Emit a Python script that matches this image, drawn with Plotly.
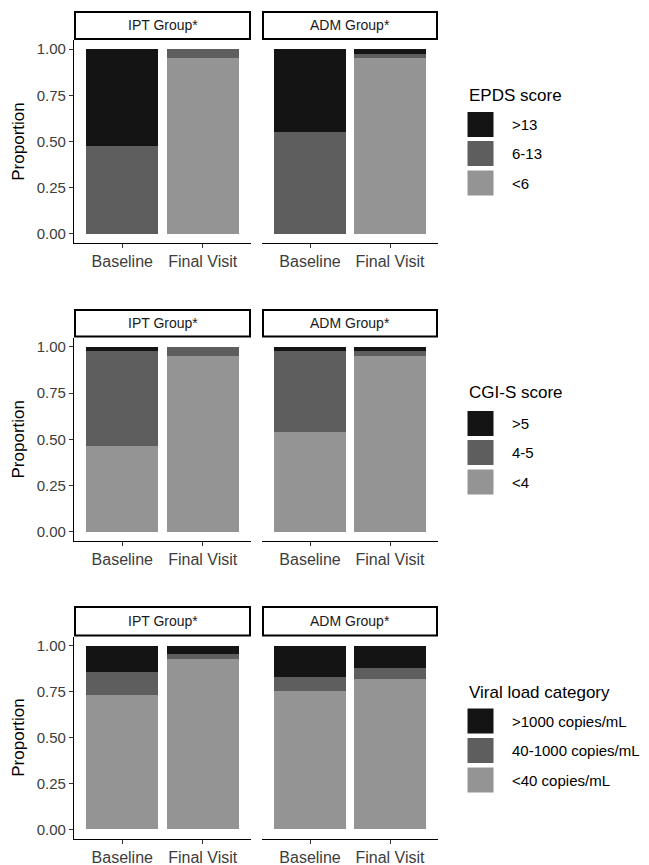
import plotly.graph_objects as go

W, H = 649, 865

# ---------------- data ----------------
visits = ["Baseline", "Final Visit"]
groups = ["IPT Group*", "ADM Group*"]

epds_title = "EPDS score"
epds_levels = [">13", "6-13", "<6"]
epds_ipt_gt13 = [0.523, 0.000]
epds_ipt_6_13 = [0.477, 0.045]
epds_ipt_lt6 = [0.000, 0.955]
epds_adm_gt13 = [0.447, 0.025]
epds_adm_6_13 = [0.553, 0.020]
epds_adm_lt6 = [0.000, 0.955]

cgi_title = "CGI-S score"
cgi_levels = [">5", "4-5", "<4"]
cgi_ipt_gt5 = [0.023, 0.000]
cgi_ipt_4_5 = [0.512, 0.052]
cgi_ipt_lt4 = [0.465, 0.948]
cgi_adm_gt5 = [0.023, 0.025]
cgi_adm_4_5 = [0.436, 0.027]
cgi_adm_lt4 = [0.541, 0.948]

vl_title = "Viral load category"
vl_levels = [">1000 copies/mL", "40-1000 copies/mL", "<40 copies/mL"]
vl_ipt_gt1000 = [0.144, 0.046]
vl_ipt_40_1000 = [0.123, 0.029]
vl_ipt_lt40 = [0.733, 0.925]
vl_adm_gt1000 = [0.173, 0.124]
vl_adm_40_1000 = [0.076, 0.056]
vl_adm_lt40 = [0.751, 0.820]

y_ticks = [0, 0.25, 0.5, 0.75, 1.0]

# ---------------- styling ----------------
colors = ["#141414", "#5e5e5e", "#949494"]  # dark, mid, light (same order as levels)
FONT = "Liberation Sans, Arial, sans-serif"
TICK_COLOR = "#3d3d3d"

rows = [
    (epds_title, epds_levels,
     [[epds_ipt_gt13, epds_ipt_6_13, epds_ipt_lt6],
      [epds_adm_gt13, epds_adm_6_13, epds_adm_lt6]]),
    (cgi_title, cgi_levels,
     [[cgi_ipt_gt5, cgi_ipt_4_5, cgi_ipt_lt4],
      [cgi_adm_gt5, cgi_adm_4_5, cgi_adm_lt4]]),
    (vl_title, vl_levels,
     [[vl_ipt_gt1000, vl_ipt_40_1000, vl_ipt_lt40],
      [vl_adm_gt1000, vl_adm_40_1000, vl_adm_lt40]]),
]

# pixel layout
col_px = [(74, 251), (262, 438)]
row_panel_px = [(40, 243), (337.5, 541), (636.5, 838.5)]
row_strip_px = [(11, 40), (309, 337.5), (606, 636.5)]
legend_title_px = [95, 392, 692]
legend_key_top_px = [[111.5, 140.5, 170], [410.5, 439.5, 469], [708, 737.5, 767]]
legend_key_x = (467, 494)
legend_text_x = 510


def px_x(p):
    return p / W


def px_y(p):
    return 1 - p / H


fig = go.Figure()
shapes = []
annotations = []

for r, (title, levels, data) in enumerate(rows):
    for c in range(2):
        idx = r * 2 + c + 1
        xa = "x" if idx == 1 else f"x{idx}"
        ya = "y" if idx == 1 else f"y{idx}"
        # stack bottom-up: light, mid, dark
        for k in [2, 1, 0]:
            fig.add_trace(go.Bar(
                x=visits, y=data[c][k], name=levels[k],
                marker=dict(color=colors[k], line=dict(width=0)),
                width=0.9, xaxis=xa, yaxis=ya, showlegend=False,
            ))
        x0, x1 = col_px[c]
        p0, p1 = row_panel_px[r]
        xkey = "xaxis" if idx == 1 else f"xaxis{idx}"
        ykey = "yaxis" if idx == 1 else f"yaxis{idx}"
        fig.layout[xkey] = dict(
            domain=[px_x(x0), px_x(x1)], anchor=ya,
            type="category", range=[-0.6, 1.6],
            showline=True, linecolor="black", linewidth=1.2,
            ticks="outside", ticklen=4, tickcolor="#333333", tickwidth=1,
            tickfont=dict(family=FONT, size=16, color=TICK_COLOR),
            showgrid=False, zeroline=False, fixedrange=True,
        )
        fig.layout[ykey] = dict(
            domain=[px_y(p1), px_y(p0)], anchor=xa,
            range=[-0.05, 1.05],
            tickvals=y_ticks, tickformat=".2f",
            showline=(c == 0), linecolor="black", linewidth=1.2,
            ticks="outside" if c == 0 else "", ticklen=4, tickcolor="#333333",
            showticklabels=(c == 0),
            tickfont=dict(family=FONT, size=15, color=TICK_COLOR),
            showgrid=False, zeroline=False, fixedrange=True,
            title=dict(text="Proportion" if c == 0 else "",
                       font=dict(family=FONT, size=17, color="black"),
                       standoff=7),
        )
        # strip
        s0, s1 = row_strip_px[r]
        shapes.append(dict(type="rect", xref="paper", yref="paper",
                           x0=px_x(x0 + 1), x1=px_x(x1 - 1), y0=px_y(s1 - 1), y1=px_y(s0 + 1),
                           line=dict(color="black", width=2), fillcolor="white"))
        annotations.append(dict(text=groups[c], xref="paper", yref="paper",
                                x=px_x((x0 + x1) / 2), y=px_y((s0 + s1) / 2),
                                xanchor="center", yanchor="middle", showarrow=False,
                                font=dict(family=FONT, size=14, color="#1a1a1a")))
    # legend
    annotations.append(dict(text=title, xref="paper", yref="paper",
                            x=px_x(legend_key_x[0]), y=px_y(legend_title_px[r]),
                            xanchor="left", yanchor="middle", showarrow=False,
                            font=dict(family=FONT, size=17, color="black")))
    for k, lev in enumerate(levels):
        t = legend_key_top_px[r][k]
        shapes.append(dict(type="rect", xref="paper", yref="paper",
                           x0=px_x(legend_key_x[0]), x1=px_x(legend_key_x[1]),
                           y0=px_y(t + 26), y1=px_y(t),
                           line=dict(color="white", width=1), fillcolor=colors[k]))
        annotations.append(dict(text=lev, xref="paper", yref="paper",
                                x=px_x(legend_text_x), y=px_y(t + 13),
                                xanchor="left", yanchor="middle", showarrow=False,
                                font=dict(family=FONT, size=15, color="black")))

fig.update_layout(
    width=W, height=H,
    margin=dict(l=0, r=0, t=0, b=0),
    paper_bgcolor="white", plot_bgcolor="white",
    barmode="stack", bargap=0.1,
    shapes=shapes, annotations=annotations,
    showlegend=False,
    font=dict(family=FONT),
)

fig.write_html(
    "out.html",
    config={"displayModeBar": False},
    post_script="document.body.style.margin='0';document.body.style.padding='0';"
                "document.documentElement.style.overflow='hidden';",
)
